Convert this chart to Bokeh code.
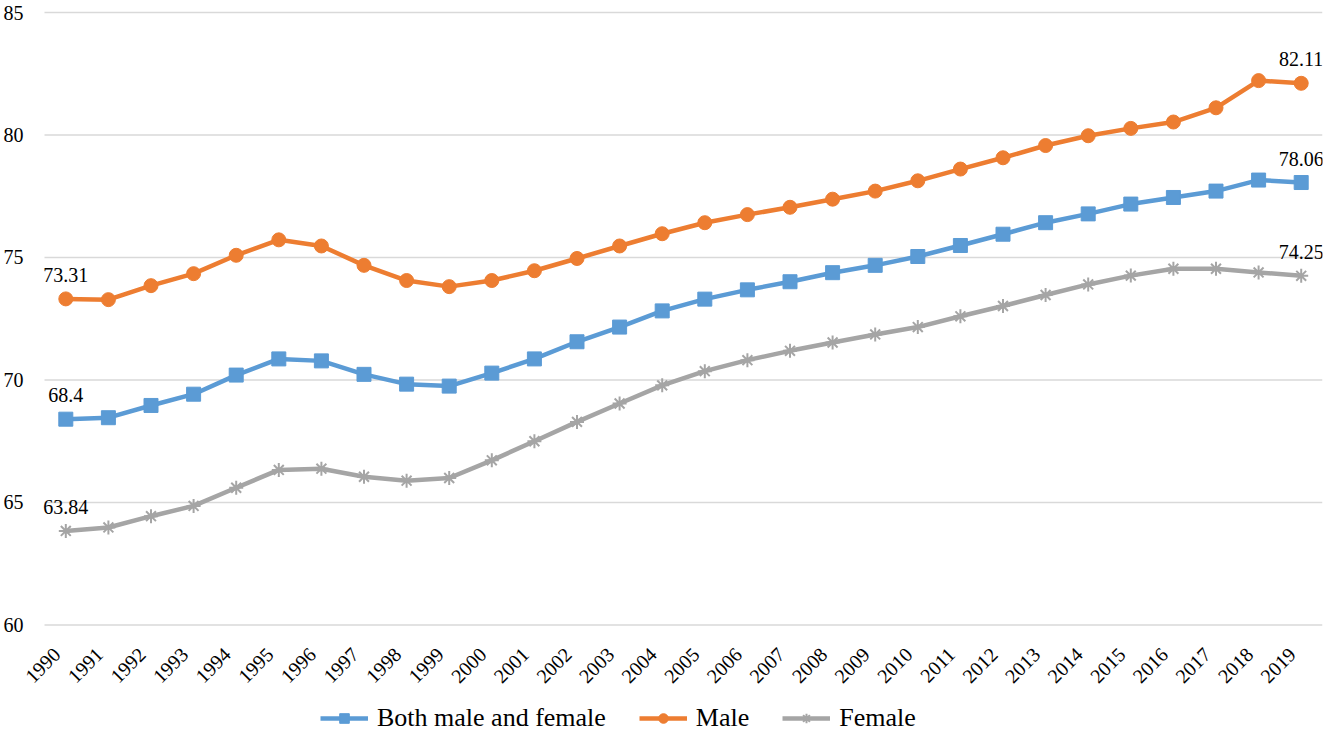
import math
from bokeh.plotting import figure
from bokeh.models import (Range1d, Legend, LegendItem, LabelSet, ColumnDataSource)
from bokeh.embed import file_html
from bokeh.resources import INLINE

years = [1990, 1991, 1992, 1993, 1994, 1995, 1996, 1997, 1998, 1999,
         2000, 2001, 2002, 2003, 2004, 2005, 2006, 2007, 2008, 2009,
         2010, 2011, 2012, 2013, 2014, 2015, 2016, 2017, 2018, 2019]

both = [68.40, 68.46, 68.96, 69.42, 70.20, 70.86, 70.78, 70.23, 69.83, 69.75,
        70.28, 70.86, 71.56, 72.16, 72.82, 73.30, 73.68, 74.01, 74.38, 74.68,
        75.04, 75.49, 75.95, 76.42, 76.78, 77.18, 77.45, 77.71, 78.16, 78.06]
male = [73.31, 73.28, 73.85, 74.34, 75.09, 75.72, 75.47, 74.68, 74.06, 73.81,
        74.06, 74.46, 74.96, 75.47, 75.97, 76.42, 76.75, 77.05, 77.38, 77.71,
        78.13, 78.61, 79.07, 79.57, 79.97, 80.27, 80.53, 81.11, 82.22, 82.11]
female = [63.84, 63.98, 64.44, 64.86, 65.60, 66.33, 66.38, 66.05, 65.89, 66.00,
          66.72, 67.50, 68.29, 69.04, 69.78, 70.36, 70.81, 71.19, 71.53, 71.86,
          72.16, 72.60, 73.02, 73.47, 73.90, 74.26, 74.54, 74.54, 74.39, 74.25]

y_ticks = [60, 65, 70, 75, 80, 85]
y_tick_labels = ["60", "65", "70", "75", "80", "85"]
y_min = 60
series_names = ["Both male and female", "Male", "Female"]

BLUE = "#5B9BD5"
ORANGE = "#ED7D31"
GRAY = "#A5A5A5"
GRID = "#D9D9D9"
FONT = "Liberation Serif"

x_lo = years[0] - 0.5     # category band edges
x_hi = years[-1] + 0.5

p = figure(width=1328, height=733, output_backend="svg",
           toolbar_location=None, x_axis_location=None, y_axis_location=None,
           x_range=Range1d(x_lo - 1.033, x_hi),
           y_range=Range1d(55.57, 85.49),
           min_border_left=0, min_border_right=6, min_border_top=0,
           min_border_bottom=0, outline_line_color=None)

p.xgrid.grid_line_color = None
p.ygrid.grid_line_color = None

# horizontal gridlines spanning the category bands
p.segment(x0=[x_lo] * len(y_ticks), x1=[x_hi] * len(y_ticks), y0=y_ticks, y1=y_ticks,
          line_color=GRID, line_width=1.5)

# value-axis tick labels
ytick_src = ColumnDataSource(dict(x=[x_lo] * len(y_ticks), y=y_ticks, t=y_tick_labels))
p.add_layout(LabelSet(x="x", y="y", text="t", source=ytick_src,
                      text_align="right", text_baseline="middle", x_offset=-21,
                      text_font=FONT, text_font_size="20px", text_color="#000000"))

# year tick labels along the 60 baseline, rotated 45 degrees
tick_src = ColumnDataSource(dict(x=years, y=[y_min] * len(years),
                                 t=[str(y) for y in years]))
p.add_layout(LabelSet(x="x", y="y", text="t", source=tick_src, angle=math.pi / 4,
                      text_align="right", text_baseline="middle", y_offset=-26,
                      x_offset=-9, text_font=FONT, text_font_size="20px",
                      text_color="#000000"))

colors = [BLUE, ORANGE, GRAY]
markers = ["square", "circle", "asterisk"]
datasets = [both, male, female]
items = []
for name, vals, col, mk in zip(series_names, datasets, colors, markers):
    src = ColumnDataSource(dict(x=years, y=vals))
    ln = p.line("x", "y", source=src, line_color=col, line_width=4.5)
    if mk == "asterisk":
        sc = p.scatter("x", "y", source=src, marker=mk, size=14, line_color=col,
                       line_width=2, fill_color=col)
    else:
        sc = p.scatter("x", "y", source=src, marker=mk, size=14, line_color=col,
                       fill_color=col)
    items.append(LegendItem(label=name, renderers=[ln, sc]))

lab_x, lab_y, lab_t = [], [], []
for vals in datasets:
    for i in (0, len(years) - 1):
        lab_x.append(years[i])
        lab_y.append(vals[i])
        lab_t.append(f"{vals[i]:g}")
labels = LabelSet(x="x", y="y", text="t",
                  source=ColumnDataSource(dict(x=lab_x, y=lab_y, t=lab_t)),
                  text_align="center", text_baseline="bottom", y_offset=17,
                  text_font=FONT, text_font_size="20px", text_color="#000000")
p.add_layout(labels)

legend = Legend(items=items, orientation="horizontal", location=(320, 0),
                label_text_font=FONT, label_text_font_size="26px",
                label_text_color="#000000", glyph_width=48, glyph_height=24,
                label_standoff=9, spacing=33, padding=0, margin=0,
                border_line_color=None, background_fill_alpha=0)
p.add_layout(legend, "center")

open("out.html", "w").write(file_html(p, INLINE))
